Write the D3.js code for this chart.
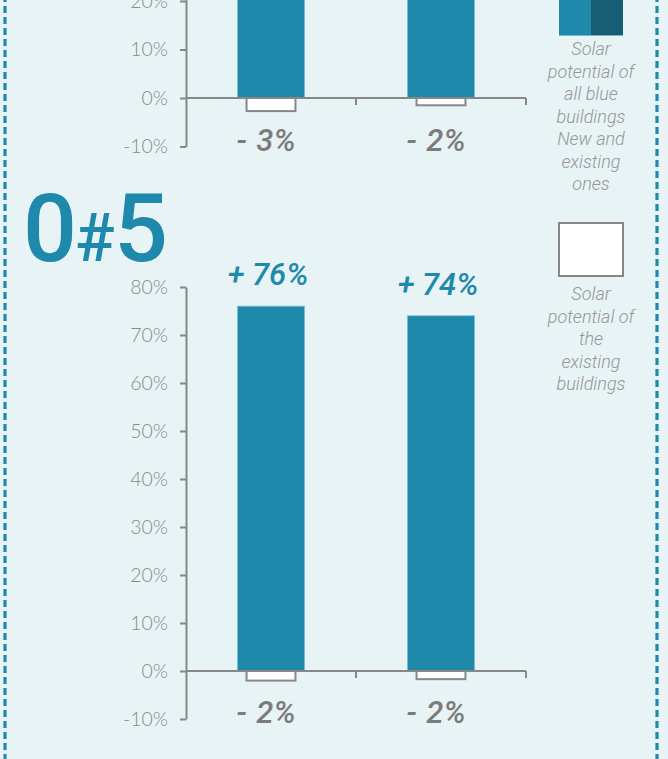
<!DOCTYPE html>
<html>
<head>
<meta charset="utf-8">
<script src="https://cdn.jsdelivr.net/npm/d3@7"></script>
<style>
  html, body { margin: 0; padding: 0; background: #e8f3f5; }
  svg { display: block; }
</style>
</head>
<body>
<svg id="chart" width="668" height="759"></svg>
<script>
// ---------- DATA ----------
const categories = ["Scenario 1", "Scenario 2"];
const yTicks = [-10, 0, 10, 20, 30, 40, 50, 60, 70, 80];
// Chart #4 (only lower part visible)
const chart4Blue = [46, 44];
const chart4White = [-2.7, -1.5];
const chart4BlueLabels = ["+ 46%", "+ 44%"];
const chart4WhiteLabels = ["- 3%", "- 2%"];
// Chart #5
const chart5Title = "0#5";
const chart5Blue = [76, 74];
const chart5White = [-2.0, -1.7];
const chart5BlueLabels = ["+ 76%", "+ 74%"];
const chart5WhiteLabels = ["- 2%", "- 2%"];
// Legend
const legendAllText = ["Solar", "potential of", "all blue", "buildings", "New and", "existing", "ones"];
const legendExistingText = ["Solar", "potential of", "the", "existing", "buildings"];

// ---------- STYLE ----------
const BLUE = "#1e89aa";
const DARK = "#175d74";
const GRAY = "#878787";
const TEXTGRAY = "#8a8a8a";
const LABELGRAY = "#7b7b7b";

const svg = d3.select("#chart");

// dashed border
[5, 657].forEach(xv => {
  svg.append("line")
    .attr("x1", xv).attr("x2", xv).attr("y1", -5).attr("y2", 770)
    .attr("stroke", BLUE).attr("stroke-width", 3.2)
    .attr("stroke-dasharray", "7,4");
});

const x = d3.scaleBand().domain(categories).range([186, 526])
  .paddingInner(0.606).paddingOuter(0.303);

function drawChart(yBottom, yTop, blue, white, blueLabels, whiteLabels) {
  const y = d3.scaleLinear().domain([-10, 80]).range([yBottom, yTop]);
  const g = svg.append("g");
  const y0 = y(0);
  const visible = v => y(v) > -12;

  // blue bars
  g.selectAll(".bb").data(blue).join("rect")
    .attr("x", (d, i) => x(categories[i]))
    .attr("width", x.bandwidth())
    .attr("y", d => y(d))
    .attr("height", d => y0 - y(d))
    .attr("fill", BLUE)
    .attr("stroke", "#78bdd3").attr("stroke-width", 0.8);

  // white bars
  const ww = x.bandwidth() * 0.73;
  g.selectAll(".wb").data(white).join("rect")
    .attr("x", (d, i) => x(categories[i]) + (x.bandwidth() - ww) / 2)
    .attr("width", ww)
    .attr("y", y0)
    .attr("height", d => y(d) - y0)
    .attr("fill", "#ffffff")
    .attr("stroke", GRAY).attr("stroke-width", 2);

  // y axis
  const ax = g.append("g")
    .attr("transform", `translate(${x.range()[0]},0)`)
    .call(d3.axisLeft(y).tickValues(yTicks.filter(visible)).tickSize(6).tickPadding(12)
      .tickFormat(d => d + "%").tickSizeOuter(0));
  ax.select(".domain").attr("stroke", GRAY).attr("stroke-width", 2);
  ax.selectAll(".tick line").attr("stroke", GRAY).attr("stroke-width", 2);
  ax.selectAll(".tick text")
    .attr("fill", TEXTGRAY)
    .style("font-family", "Lato, sans-serif")
    .style("font-weight", 300)
    .style("font-size", "19.5px");

  // x axis line with ticks at band boundaries
  const r = x.range();
  g.append("line").attr("x1", r[0]).attr("x2", r[1]).attr("y1", y0).attr("y2", y0)
    .attr("stroke", GRAY).attr("stroke-width", 2);
  const bounds = [1, 2].map(i => r[0] + i * x.step());
  g.selectAll(".xt").data(bounds).join("line")
    .attr("x1", d => d).attr("x2", d => d)
    .attr("y1", y0).attr("y2", y0 + 7)
    .attr("stroke", GRAY).attr("stroke-width", 2);

  // labels (only those that fall on the page)
  g.selectAll(".bl").data(blue.filter(visible)).join("text")
    .attr("x", d => x(categories[blue.indexOf(d)]) + x.bandwidth() / 2 - 3)
    .attr("y", d => y(d) - 21)
    .attr("text-anchor", "middle")
    .attr("fill", BLUE)
    .style("font-family", "Roboto, sans-serif")
    .style("font-style", "italic")
    .style("font-weight", 500)
    .style("font-size", "31px")
    .text(d => blueLabels[blue.indexOf(d)]);

  g.selectAll(".wl").data(white).join("text")
    .attr("x", (d, i) => x(categories[i]) + x.bandwidth() / 2 - 5)
    .attr("y", y(-10) + 4)
    .attr("text-anchor", "middle")
    .attr("fill", LABELGRAY)
    .style("font-family", "Roboto, sans-serif")
    .style("font-style", "italic")
    .style("font-weight", 500)
    .style("font-size", "31px")
    .style("word-spacing", "2px")
    .text((d, i) => whiteLabels[i]);
}

drawChart(146.5, 146.5 - 90 * 4.85, chart4Blue, chart4White, chart4BlueLabels, chart4WhiteLabels);
drawChart(719, 287, chart5Blue, chart5White, chart5BlueLabels, chart5WhiteLabels);

// title 0#5
const t = svg.append("text")
  .attr("y", 261)
  .attr("fill", BLUE)
  .style("font-family", "Roboto, sans-serif")
  .style("font-weight", 500);
const parts = chart5Title.split("");
const px = [23, 75, 114];
const ps = [95, 66, 95];
parts.forEach((c, i) => {
  t.append("tspan").attr("x", px[i]).style("font-size", ps[i] + "px").text(c);
});

// legend
const lg = svg.append("g");
lg.append("rect").attr("x", 559).attr("y", -17).attr("width", 32).attr("height", 53).attr("fill", BLUE);
lg.append("rect").attr("x", 591).attr("y", -17).attr("width", 32).attr("height", 53).attr("fill", DARK);
lg.append("line").attr("x1", 559).attr("x2", 623).attr("y1", 35.5).attr("y2", 35.5)
  .attr("stroke", "#6fb7cd").attr("stroke-width", 1);
lg.append("rect").attr("x", 559).attr("y", 223).attr("width", 64).attr("height", 53)
  .attr("fill", "#ffffff").attr("stroke", GRAY).attr("stroke-width", 2);

function legendText(lines, y0) {
  lg.append("g").selectAll("text").data(lines).join("text")
    .attr("x", 591)
    .attr("y", (d, i) => y0 + i * 22.5)
    .attr("text-anchor", "middle")
    .attr("fill", "#969696")
    .style("font-family", "Roboto, sans-serif")
    .style("font-style", "italic")
    .style("font-weight", 300)
    .style("font-size", "18px")
    .text(d => d);
}
legendText(legendAllText, 55);
legendText(legendExistingText, 300);
</script>
</body>
</html>
